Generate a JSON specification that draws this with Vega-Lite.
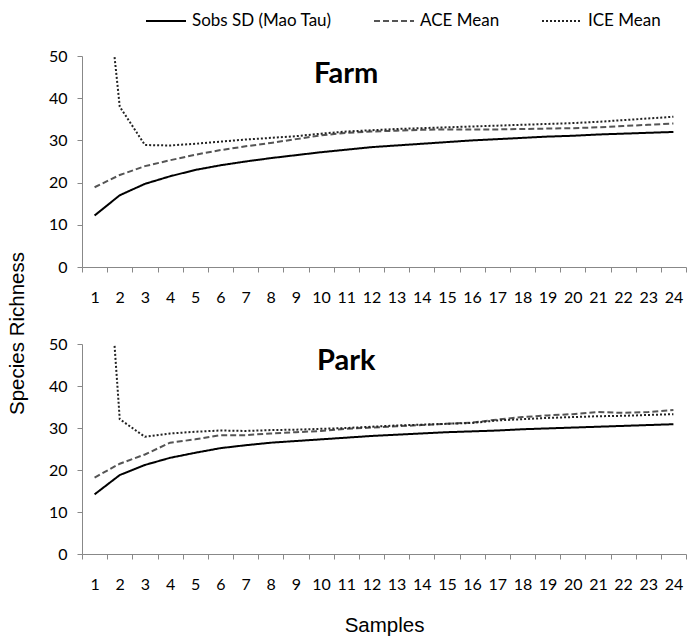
{
  "$schema": "https://vega.github.io/schema/vega-lite/v6.json",
  "background": "white",
  "padding": {"left": 7, "top": 0, "right": 0, "bottom": 0},
  "config": {
    "view": {"stroke": null},
    "font": "Lato",
    "legend": {
      "orient": "none", "legendX": 63, "legendY": -56, "direction": "horizontal",
      "symbolType": "stroke", "symbolSize": 1600, "symbolStrokeWidth": 2,
      "labelFont": "Lato", "labelFontSize": 17, "labelColor": "black",
      "columnPadding": 38, "labelOffset": 5
    },
    "axisX": {
      "tickBand": "extent", "domainColor": "#888", "tickColor": "#888", "tickSize": 5,
      "labelAngle": 0, "labelFont": "Lato", "labelFontSize": 16, "labelColor": "black",
      "labelPadding": 17, "grid": false,
      "titleFont": "Liberation Sans", "titleFontSize": 20.5, "titleFontWeight": "normal", "titleColor": "black", "titlePadding": 23
    },
    "axisY": {
      "domainColor": "#888", "tickColor": "#888", "tickSize": 5, "grid": false,
      "labelFont": "Lato", "labelFontSize": 16, "labelColor": "black", "labelPadding": 10,
      "values": [0, 10, 20, 30, 40, 50],
      "titleFont": "Liberation Sans", "titleFontSize": 20.5, "titleFontWeight": "normal", "titleColor": "black"
    }
  },
  "datasets": {
    "rich": [
      {"site":"Farm","series":"Sobs SD (Mao Tau)","sample":1,"richness":12.2},
      {"site":"Farm","series":"Sobs SD (Mao Tau)","sample":2,"richness":17.0},
      {"site":"Farm","series":"Sobs SD (Mao Tau)","sample":3,"richness":19.7},
      {"site":"Farm","series":"Sobs SD (Mao Tau)","sample":4,"richness":21.5},
      {"site":"Farm","series":"Sobs SD (Mao Tau)","sample":5,"richness":23.0},
      {"site":"Farm","series":"Sobs SD (Mao Tau)","sample":6,"richness":24.1},
      {"site":"Farm","series":"Sobs SD (Mao Tau)","sample":7,"richness":25.0},
      {"site":"Farm","series":"Sobs SD (Mao Tau)","sample":8,"richness":25.8},
      {"site":"Farm","series":"Sobs SD (Mao Tau)","sample":9,"richness":26.5},
      {"site":"Farm","series":"Sobs SD (Mao Tau)","sample":10,"richness":27.2},
      {"site":"Farm","series":"Sobs SD (Mao Tau)","sample":11,"richness":27.8},
      {"site":"Farm","series":"Sobs SD (Mao Tau)","sample":12,"richness":28.4},
      {"site":"Farm","series":"Sobs SD (Mao Tau)","sample":13,"richness":28.8},
      {"site":"Farm","series":"Sobs SD (Mao Tau)","sample":14,"richness":29.2},
      {"site":"Farm","series":"Sobs SD (Mao Tau)","sample":15,"richness":29.6},
      {"site":"Farm","series":"Sobs SD (Mao Tau)","sample":16,"richness":30.0},
      {"site":"Farm","series":"Sobs SD (Mao Tau)","sample":17,"richness":30.3},
      {"site":"Farm","series":"Sobs SD (Mao Tau)","sample":18,"richness":30.6},
      {"site":"Farm","series":"Sobs SD (Mao Tau)","sample":19,"richness":30.9},
      {"site":"Farm","series":"Sobs SD (Mao Tau)","sample":20,"richness":31.1},
      {"site":"Farm","series":"Sobs SD (Mao Tau)","sample":21,"richness":31.4},
      {"site":"Farm","series":"Sobs SD (Mao Tau)","sample":22,"richness":31.6},
      {"site":"Farm","series":"Sobs SD (Mao Tau)","sample":23,"richness":31.8},
      {"site":"Farm","series":"Sobs SD (Mao Tau)","sample":24,"richness":32.0},
      {"site":"Farm","series":"ACE Mean","sample":1,"richness":18.9},
      {"site":"Farm","series":"ACE Mean","sample":2,"richness":21.8},
      {"site":"Farm","series":"ACE Mean","sample":3,"richness":23.9},
      {"site":"Farm","series":"ACE Mean","sample":4,"richness":25.3},
      {"site":"Farm","series":"ACE Mean","sample":5,"richness":26.6},
      {"site":"Farm","series":"ACE Mean","sample":6,"richness":27.7},
      {"site":"Farm","series":"ACE Mean","sample":7,"richness":28.6},
      {"site":"Farm","series":"ACE Mean","sample":8,"richness":29.4},
      {"site":"Farm","series":"ACE Mean","sample":9,"richness":30.3},
      {"site":"Farm","series":"ACE Mean","sample":10,"richness":31.2},
      {"site":"Farm","series":"ACE Mean","sample":11,"richness":31.8},
      {"site":"Farm","series":"ACE Mean","sample":12,"richness":32.1},
      {"site":"Farm","series":"ACE Mean","sample":13,"richness":32.3},
      {"site":"Farm","series":"ACE Mean","sample":14,"richness":32.5},
      {"site":"Farm","series":"ACE Mean","sample":15,"richness":32.6},
      {"site":"Farm","series":"ACE Mean","sample":16,"richness":32.6},
      {"site":"Farm","series":"ACE Mean","sample":17,"richness":32.6},
      {"site":"Farm","series":"ACE Mean","sample":18,"richness":32.7},
      {"site":"Farm","series":"ACE Mean","sample":19,"richness":32.8},
      {"site":"Farm","series":"ACE Mean","sample":20,"richness":32.9},
      {"site":"Farm","series":"ACE Mean","sample":21,"richness":33.1},
      {"site":"Farm","series":"ACE Mean","sample":22,"richness":33.4},
      {"site":"Farm","series":"ACE Mean","sample":23,"richness":33.7},
      {"site":"Farm","series":"ACE Mean","sample":24,"richness":34.0},
      {"site":"Farm","series":"ICE Mean","sample":1,"richness":95},
      {"site":"Farm","series":"ICE Mean","sample":2,"richness":38.0},
      {"site":"Farm","series":"ICE Mean","sample":3,"richness":28.9},
      {"site":"Farm","series":"ICE Mean","sample":4,"richness":28.8},
      {"site":"Farm","series":"ICE Mean","sample":5,"richness":29.2},
      {"site":"Farm","series":"ICE Mean","sample":6,"richness":29.7},
      {"site":"Farm","series":"ICE Mean","sample":7,"richness":30.2},
      {"site":"Farm","series":"ICE Mean","sample":8,"richness":30.6},
      {"site":"Farm","series":"ICE Mean","sample":9,"richness":31.0},
      {"site":"Farm","series":"ICE Mean","sample":10,"richness":31.6},
      {"site":"Farm","series":"ICE Mean","sample":11,"richness":32.1},
      {"site":"Farm","series":"ICE Mean","sample":12,"richness":32.4},
      {"site":"Farm","series":"ICE Mean","sample":13,"richness":32.7},
      {"site":"Farm","series":"ICE Mean","sample":14,"richness":32.9},
      {"site":"Farm","series":"ICE Mean","sample":15,"richness":33.1},
      {"site":"Farm","series":"ICE Mean","sample":16,"richness":33.3},
      {"site":"Farm","series":"ICE Mean","sample":17,"richness":33.5},
      {"site":"Farm","series":"ICE Mean","sample":18,"richness":33.7},
      {"site":"Farm","series":"ICE Mean","sample":19,"richness":33.9},
      {"site":"Farm","series":"ICE Mean","sample":20,"richness":34.1},
      {"site":"Farm","series":"ICE Mean","sample":21,"richness":34.4},
      {"site":"Farm","series":"ICE Mean","sample":22,"richness":34.8},
      {"site":"Farm","series":"ICE Mean","sample":23,"richness":35.2},
      {"site":"Farm","series":"ICE Mean","sample":24,"richness":35.6},
      {"site":"Park","series":"Sobs SD (Mao Tau)","sample":1,"richness":14.2},
      {"site":"Park","series":"Sobs SD (Mao Tau)","sample":2,"richness":18.8},
      {"site":"Park","series":"Sobs SD (Mao Tau)","sample":3,"richness":21.2},
      {"site":"Park","series":"Sobs SD (Mao Tau)","sample":4,"richness":22.9},
      {"site":"Park","series":"Sobs SD (Mao Tau)","sample":5,"richness":24.1},
      {"site":"Park","series":"Sobs SD (Mao Tau)","sample":6,"richness":25.2},
      {"site":"Park","series":"Sobs SD (Mao Tau)","sample":7,"richness":25.9},
      {"site":"Park","series":"Sobs SD (Mao Tau)","sample":8,"richness":26.5},
      {"site":"Park","series":"Sobs SD (Mao Tau)","sample":9,"richness":26.9},
      {"site":"Park","series":"Sobs SD (Mao Tau)","sample":10,"richness":27.3},
      {"site":"Park","series":"Sobs SD (Mao Tau)","sample":11,"richness":27.7},
      {"site":"Park","series":"Sobs SD (Mao Tau)","sample":12,"richness":28.1},
      {"site":"Park","series":"Sobs SD (Mao Tau)","sample":13,"richness":28.4},
      {"site":"Park","series":"Sobs SD (Mao Tau)","sample":14,"richness":28.7},
      {"site":"Park","series":"Sobs SD (Mao Tau)","sample":15,"richness":29.0},
      {"site":"Park","series":"Sobs SD (Mao Tau)","sample":16,"richness":29.2},
      {"site":"Park","series":"Sobs SD (Mao Tau)","sample":17,"richness":29.4},
      {"site":"Park","series":"Sobs SD (Mao Tau)","sample":18,"richness":29.7},
      {"site":"Park","series":"Sobs SD (Mao Tau)","sample":19,"richness":29.9},
      {"site":"Park","series":"Sobs SD (Mao Tau)","sample":20,"richness":30.1},
      {"site":"Park","series":"Sobs SD (Mao Tau)","sample":21,"richness":30.3},
      {"site":"Park","series":"Sobs SD (Mao Tau)","sample":22,"richness":30.5},
      {"site":"Park","series":"Sobs SD (Mao Tau)","sample":23,"richness":30.7},
      {"site":"Park","series":"Sobs SD (Mao Tau)","sample":24,"richness":30.9},
      {"site":"Park","series":"ACE Mean","sample":1,"richness":18.2},
      {"site":"Park","series":"ACE Mean","sample":2,"richness":21.5},
      {"site":"Park","series":"ACE Mean","sample":3,"richness":23.7},
      {"site":"Park","series":"ACE Mean","sample":4,"richness":26.5},
      {"site":"Park","series":"ACE Mean","sample":5,"richness":27.3},
      {"site":"Park","series":"ACE Mean","sample":6,"richness":28.3},
      {"site":"Park","series":"ACE Mean","sample":7,"richness":28.3},
      {"site":"Park","series":"ACE Mean","sample":8,"richness":28.7},
      {"site":"Park","series":"ACE Mean","sample":9,"richness":29.0},
      {"site":"Park","series":"ACE Mean","sample":10,"richness":29.3},
      {"site":"Park","series":"ACE Mean","sample":11,"richness":29.8},
      {"site":"Park","series":"ACE Mean","sample":12,"richness":30.1},
      {"site":"Park","series":"ACE Mean","sample":13,"richness":30.4},
      {"site":"Park","series":"ACE Mean","sample":14,"richness":30.7},
      {"site":"Park","series":"ACE Mean","sample":15,"richness":31.0},
      {"site":"Park","series":"ACE Mean","sample":16,"richness":31.3},
      {"site":"Park","series":"ACE Mean","sample":17,"richness":32.0},
      {"site":"Park","series":"ACE Mean","sample":18,"richness":32.6},
      {"site":"Park","series":"ACE Mean","sample":19,"richness":33.0},
      {"site":"Park","series":"ACE Mean","sample":20,"richness":33.3},
      {"site":"Park","series":"ACE Mean","sample":21,"richness":33.8},
      {"site":"Park","series":"ACE Mean","sample":22,"richness":33.6},
      {"site":"Park","series":"ACE Mean","sample":23,"richness":33.8},
      {"site":"Park","series":"ACE Mean","sample":24,"richness":34.3},
      {"site":"Park","series":"ICE Mean","sample":1,"richness":117},
      {"site":"Park","series":"ICE Mean","sample":2,"richness":32.1},
      {"site":"Park","series":"ICE Mean","sample":3,"richness":27.9},
      {"site":"Park","series":"ICE Mean","sample":4,"richness":28.7},
      {"site":"Park","series":"ICE Mean","sample":5,"richness":29.1},
      {"site":"Park","series":"ICE Mean","sample":6,"richness":29.4},
      {"site":"Park","series":"ICE Mean","sample":7,"richness":29.3},
      {"site":"Park","series":"ICE Mean","sample":8,"richness":29.5},
      {"site":"Park","series":"ICE Mean","sample":9,"richness":29.6},
      {"site":"Park","series":"ICE Mean","sample":10,"richness":29.8},
      {"site":"Park","series":"ICE Mean","sample":11,"richness":30.0},
      {"site":"Park","series":"ICE Mean","sample":12,"richness":30.3},
      {"site":"Park","series":"ICE Mean","sample":13,"richness":30.6},
      {"site":"Park","series":"ICE Mean","sample":14,"richness":30.8},
      {"site":"Park","series":"ICE Mean","sample":15,"richness":31.0},
      {"site":"Park","series":"ICE Mean","sample":16,"richness":31.2},
      {"site":"Park","series":"ICE Mean","sample":17,"richness":31.8},
      {"site":"Park","series":"ICE Mean","sample":18,"richness":32.1},
      {"site":"Park","series":"ICE Mean","sample":19,"richness":32.4},
      {"site":"Park","series":"ICE Mean","sample":20,"richness":32.6},
      {"site":"Park","series":"ICE Mean","sample":21,"richness":32.8},
      {"site":"Park","series":"ICE Mean","sample":22,"richness":32.9},
      {"site":"Park","series":"ICE Mean","sample":23,"richness":33.1},
      {"site":"Park","series":"ICE Mean","sample":24,"richness":33.3}
    ],
    "labels": [
      {"site":"Farm","label":"Farm","sample":11,"richness":43.6},
      {"site":"Park","label":"Park","sample":11,"richness":43.8}
    ]
  },
  "bounds": "flush",
  "spacing": 77,
  "vconcat": [
    {
      "width": 604, "height": 211,
      "layer": [
        {
          "data": {"name": "rich"},
          "transform": [{"filter": "datum.site === 'Farm'"}],
          "mark": {"type": "line", "clip": true, "strokeWidth": 2},
          "encoding": {
            "x": {"field": "sample", "type": "ordinal", "bandPosition": 0.5,
                  "scale": {"type": "band", "paddingInner": 0, "paddingOuter": 0},
                  "axis": {"title": null}},
            "y": {"field": "richness", "type": "quantitative", "scale": {"domain": [0, 50]},
                  "axis": {"title": "Species Richness", "titleX": -55, "titleY": 277, "titleAngle": 270, "titleAlign": "center"}},
            "color": {"field": "series", "type": "nominal", "title": null,
                      "scale": {"domain": ["Sobs SD (Mao Tau)", "ACE Mean", "ICE Mean"], "range": ["#000000", "#555555", "#222222"]}},
            "strokeDash": {"field": "series", "type": "nominal", "title": null,
                      "scale": {"domain": ["Sobs SD (Mao Tau)", "ACE Mean", "ICE Mean"], "range": [[1, 0], [6, 3], [2, 2]]}}
          }
        },
        {
          "data": {"name": "labels"},
          "transform": [{"filter": "datum.site === 'Farm'"}],
          "mark": {"type": "text", "font": "Lato", "fontWeight": "bold", "fontSize": 29, "baseline": "alphabetic", "align": "center", "color": "black"},
          "encoding": {
            "x": {"field": "sample", "type": "ordinal", "bandPosition": 0.5},
            "y": {"field": "richness", "type": "quantitative"},
            "text": {"field": "label"}
          }
        }
      ]
    },
    {
      "width": 604, "height": 210,
      "layer": [
        {
          "data": {"name": "rich"},
          "transform": [{"filter": "datum.site === 'Park'"}],
          "mark": {"type": "line", "clip": true, "strokeWidth": 2},
          "encoding": {
            "x": {"field": "sample", "type": "ordinal", "bandPosition": 0.5,
                  "scale": {"type": "band", "paddingInner": 0, "paddingOuter": 0},
                  "axis": {"title": "Samples"}},
            "y": {"field": "richness", "type": "quantitative", "scale": {"domain": [0, 50]},
                  "axis": {"title": null}},
            "color": {"field": "series", "type": "nominal", "title": null,
                      "scale": {"domain": ["Sobs SD (Mao Tau)", "ACE Mean", "ICE Mean"], "range": ["#000000", "#555555", "#222222"]}},
            "strokeDash": {"field": "series", "type": "nominal", "title": null,
                      "scale": {"domain": ["Sobs SD (Mao Tau)", "ACE Mean", "ICE Mean"], "range": [[1, 0], [6, 3], [2, 2]]}}
          }
        },
        {
          "data": {"name": "labels"},
          "transform": [{"filter": "datum.site === 'Park'"}],
          "mark": {"type": "text", "font": "Lato", "fontWeight": "bold", "fontSize": 29, "baseline": "alphabetic", "align": "center", "color": "black"},
          "encoding": {
            "x": {"field": "sample", "type": "ordinal", "bandPosition": 0.5},
            "y": {"field": "richness", "type": "quantitative"},
            "text": {"field": "label"}
          }
        }
      ]
    }
  ]
}
